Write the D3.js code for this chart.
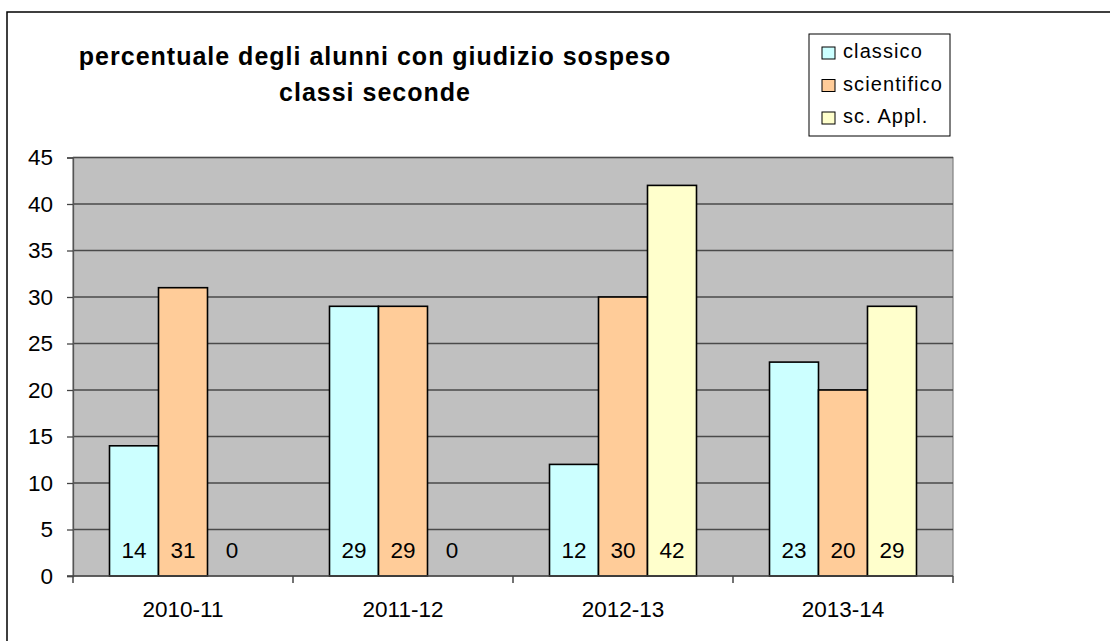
<!DOCTYPE html>
<meta charset=utf-8>
<script src="https://cdn.jsdelivr.net/npm/d3@7"></script>
<style>
body { margin: 0; background: white }
svg { display: block; font-family: "Liberation Sans", Arial, sans-serif }
</style>
<body>
<svg id=chart width=1110 height=641></svg>
</body>
<script>
// data
const anni = ["2010-11", "2011-12", "2012-13", "2013-14"];
const indirizzi = ["classico", "scientifico", "sc. Appl."];
const classico = [14, 29, 12, 23];
const scientifico = [31, 29, 30, 20];
const scAppl = [0, 0, 42, 29];
const yTicks = [0, 5, 10, 15, 20, 25, 30, 35, 40, 45];
const titolo = ["percentuale degli alunni con giudizio sospeso", "classi seconde"];

const valori = [classico, scientifico, scAppl];
const colori = ["#ccffff", "#ffcc99", "#ffffcc"];

const svg = d3.select(chart);
const plot = {left: 73, right: 953, top: 157.5, bottom: 576};

// outer frame (runs off the page on right and bottom)
svg.append("rect")
	.attr("x", 7).attr("y", 12)
	.attr("width", 1200).attr("height", 700)
	.attr("fill", "white").attr("stroke", "black").attr("stroke-width", 1.5);

// scales
const x0 = d3.scaleBand().domain(anni).range([plot.left, plot.right]);
const x1 = d3.scaleBand().domain(indirizzi).range([0, x0.bandwidth()]).paddingInner(0).paddingOuter(0.745);
const y = d3.scaleLinear().domain([0, 45]).range([plot.bottom, plot.top]);

// plot background
svg.append("rect")
	.attr("x", plot.left).attr("y", plot.top)
	.attr("width", plot.right - plot.left).attr("height", plot.bottom - plot.top)
	.attr("fill", "#c0c0c0").attr("stroke", "#808080").attr("stroke-width", 1.2);

// gridlines
svg.append("g")
	.attr("stroke", "#4a4a4a").attr("stroke-width", 1.3)
	.selectAll("line")
	.data(yTicks.filter(d => d > 0))
	.join("line")
		.attr("x1", plot.left).attr("x2", plot.right)
		.attr("y1", d => y(d)).attr("y2", d => y(d));

// Y axis
svg.append("g")
	.attr("transform", `translate(${plot.left},0)`)
	.call(d3.axisLeft(y).tickValues(yTicks).tickSize(6).tickPadding(14))
	.call(g => g.select(".domain").attr("stroke", "#555").attr("stroke-width", 1.3))
	.call(g => g.selectAll(".tick line").attr("stroke", "#444").attr("stroke-width", 1.3))
	.call(g => g.selectAll(".tick text").attr("font-size", "22.5px").attr("font-family", "Liberation Sans, Arial, sans-serif").attr("fill", "black"));

// bars
const gruppi = svg.append("g")
	.selectAll("g")
	.data(anni)
	.join("g")
		.attr("transform", a => `translate(${x0(a)},0)`);

gruppi.selectAll("rect")
	.data((a, i) => indirizzi.map((s, j) => ({s, j, v: valori[j][i]})))
	.join("rect")
		.filter(d => d.v > 0)
		.attr("x", d => x1(d.s))
		.attr("y", d => y(d.v))
		.attr("width", x1.bandwidth())
		.attr("height", d => y(0) - y(d.v))
		.attr("fill", d => colori[d.j])
		.attr("stroke", "black").attr("stroke-width", 1.6);

gruppi.selectAll("text")
	.data((a, i) => indirizzi.map((s, j) => ({s, j, v: valori[j][i]})))
	.join("text")
		.attr("x", d => x1(d.s) + x1.bandwidth() / 2)
		.attr("y", y(0) - 18)
		.attr("text-anchor", "middle")
		.attr("font-size", "22.5px")
		.text(d => d.v);

// X axis
const xAxis = svg.append("g").attr("stroke", "#444").attr("stroke-width", 1.5);
xAxis.append("line")
	.attr("x1", plot.left - 6).attr("x2", plot.right)
	.attr("y1", y(0)).attr("y2", y(0));
xAxis.selectAll(".tk")
	.data(anni.map(a => x0(a)).concat([x0.range()[1]]))
	.join("line")
		.attr("x1", d => d).attr("x2", d => d)
		.attr("y1", y(0)).attr("y2", y(0) + 7);
svg.append("g")
	.selectAll("text")
	.data(anni)
	.join("text")
		.attr("x", a => x0(a) + x0.bandwidth() / 2)
		.attr("y", 617)
		.attr("text-anchor", "middle")
		.attr("font-size", "22.5px")
		.text(a => a);

// title
svg.append("text")
	.attr("text-anchor", "middle")
	.attr("font-weight", "bold")
	.attr("font-size", "25px")
	.attr("letter-spacing", "1px")
	.selectAll("tspan")
	.data(titolo)
	.join("tspan")
		.attr("x", 375)
		.attr("y", (d, i) => 65 + i * 36)
		.text(d => d);

// legend
const leg = svg.append("g");
leg.append("rect")
	.attr("x", 809).attr("y", 34).attr("width", 141).attr("height", 102)
	.attr("fill", "white").attr("stroke", "black").attr("stroke-width", 1);
const voci = leg.selectAll("g")
	.data(indirizzi)
	.join("g")
		.attr("transform", (d, i) => `translate(0,${i * 32.5})`);
voci.append("rect")
	.attr("x", 822).attr("y", 47).attr("width", 13).attr("height", 12)
	.attr("fill", (d, i) => colori[i]).attr("stroke", "black").attr("stroke-width", 1);
voci.append("text")
	.attr("x", 843).attr("y", 58)
	.attr("font-size", "20px")
	.attr("letter-spacing", "1.1px")
	.text(d => d);
</script>
